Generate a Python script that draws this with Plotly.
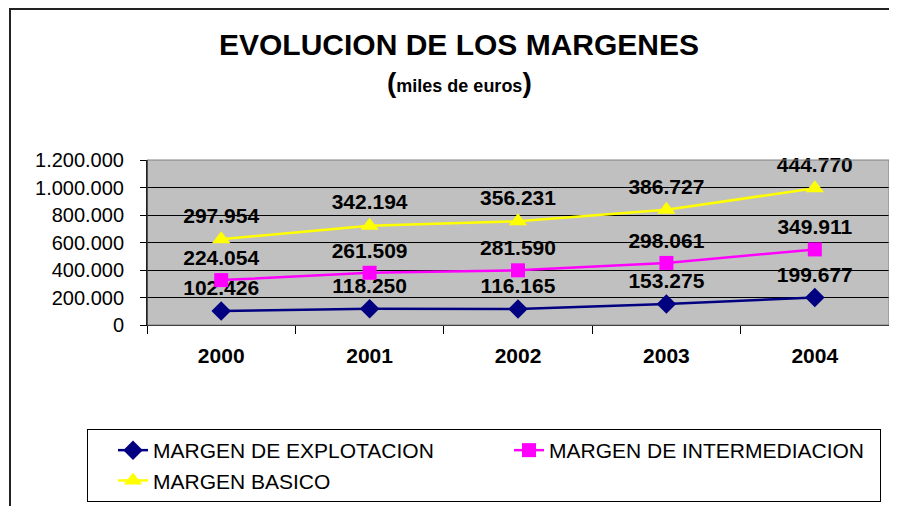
import plotly.graph_objects as go

years = ["2000", "2001", "2002", "2003", "2004"]
margen_explotacion = [102426, 118250, 116165, 153275, 199677]
margen_intermediacion = [224054, 261509, 281590, 298061, 349911]
margen_basico = [297954, 342194, 356231, 386727, 444770]

series = [
    ("MARGEN DE EXPLOTACION", margen_explotacion, "#000080", "diamond", 15),
    ("MARGEN DE INTERMEDIACION", margen_intermediacion, "#FF00FF", "square", 14),
    ("MARGEN BASICO", margen_basico, "#FFFF00", "triangle-up", 16),
]

FONT = "Liberation Sans, Arial, sans-serif"
OFF = 8  # default page body margin
W, H = 897 - 2 * OFF, 514 - 2 * OFF
# plot area in page pixels: x 147..889, y 160..325
L = 147 - OFF
T = 160 - OFF
R = W - (889 - OFF)
B = H - (325 - OFF)
PW, PH = W - L - R, H - T - B

def px(xp):
    return (xp - OFF - L) / PW

def py(yp):
    return 1 - (yp - OFF - T) / PH

fig = go.Figure()
for name, vals, color, sym, size in series:
    fig.add_trace(go.Scatter(
        x=years, y=vals, name=name, stackgroup="s", fill="none",
        mode="lines+markers+text",
        line=dict(color=color, width=2.5),
        marker=dict(symbol=sym, size=size, color=color),
        customdata=vals,
        texttemplate="%{customdata:,d}",
        textposition="top center",
        textfont=dict(family=FONT, size=21, color="black", weight="bold"),
        cliponaxis=False,
        hoverinfo="skip",
    ))

fig.update_layout(
    width=W, height=H,
    margin=dict(l=L, r=R, t=T, b=B),
    paper_bgcolor="white",
    plot_bgcolor="#C0C0C0",
    separators=",.",
    font=dict(family=FONT, color="black"),
    showlegend=True,
    legend=dict(
        orientation="h",
        x=px(87), y=py(429), xanchor="left", yanchor="top",
        bordercolor="black", borderwidth=1,
        font=dict(family=FONT, size=21, color="black"),
        entrywidth=326,
        indentation=25,
        traceorder="normal",
    ),
    xaxis=dict(
        type="category", range=[-0.5, 4.5],
        showgrid=False, showline=True, linecolor="black", linewidth=1,
        ticks="outside", ticklen=8, tickcolor="black", tickson="boundaries",
        tickfont=dict(family=FONT, size=21, color="black", weight="bold"),
        ticklabelstandoff=12,
    ),
    yaxis=dict(
        range=[0, 1200000], dtick=200000, tickformat=",d",
        showgrid=True, gridcolor="black", gridwidth=1,
        showline=True, linecolor="black", linewidth=1,
        ticks="outside", ticklen=6, tickcolor="black",
        tickfont=dict(family=FONT, size=20, color="black"),
        ticklabelstandoff=12,
        zeroline=False,
    ),
    shapes=[
        dict(type="rect", xref="paper", yref="paper", x0=0, x1=1, y0=0, y1=1,
             line=dict(color="#808080", width=1), fillcolor="rgba(0,0,0,0)", layer="above"),
        dict(type="line", xref="paper", yref="paper", x0=0, x1=0, y0=0, y1=1,
             line=dict(color="black", width=1), layer="above"),
        dict(type="rect", xref="paper", yref="paper",
             x0=px(10), x1=px(930), y0=py(560), y1=py(9),
             line=dict(color="#222222", width=2), fillcolor="rgba(0,0,0,0)", layer="below"),
    ],
    annotations=[
        dict(text="<b>EVOLUCION DE LOS MARGENES</b>", xref="paper", yref="paper",
             x=px(459), y=py(45), xanchor="center", yanchor="middle", showarrow=False,
             font=dict(family=FONT, size=30, color="black")),
        dict(text="<b><span style='font-size:28px'>(</span>miles de euros<span style='font-size:28px'>)</span></b>",
             xref="paper", yref="paper",
             x=px(459), y=py(82), xanchor="center", yanchor="middle", showarrow=False,
             font=dict(family=FONT, size=18, color="black")),
    ],
)

fig.write_html("out.html")
